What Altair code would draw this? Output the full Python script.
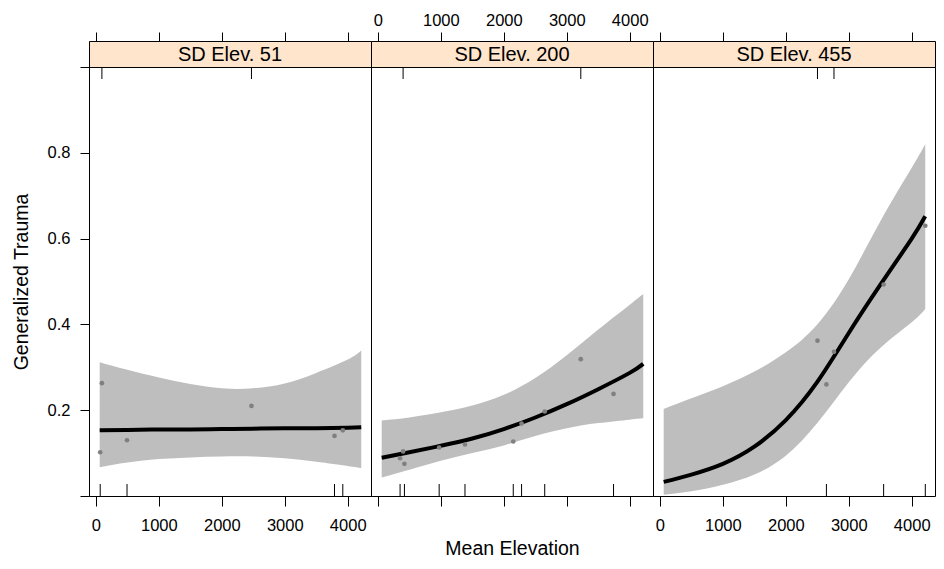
import altair as alt
import pandas as pd

FONT = "Liberation Sans"
W = 282
H = 429
STRIP_H = 26

panel_titles = ["SD Elev. 51", "SD Elev. 200", "SD Elev. 455"]
x_ticks = [0, 1000, 2000, 3000, 4000]
y_ticks = [0.0, 0.2, 0.4, 0.6, 0.8, 1.0]

# Mean elevation positions at which the fitted curve and its band were read
grid_x = [60, 500, 1000, 1500, 2000, 2500, 3000, 3500, 4000, 4215]

fit_51 = [0.153, 0.154, 0.155, 0.155, 0.156, 0.157, 0.158, 0.158, 0.159, 0.160]
lo_51 = [0.067, 0.078, 0.086, 0.090, 0.092, 0.092, 0.088, 0.080, 0.070, 0.065]
hi_51 = [0.312, 0.294, 0.276, 0.261, 0.251, 0.251, 0.262, 0.287, 0.318, 0.339]

fit_200 = [0.089, 0.102, 0.117, 0.134, 0.156, 0.183, 0.214, 0.249, 0.287, 0.308]
lo_200 = [0.043, 0.061, 0.082, 0.100, 0.118, 0.140, 0.158, 0.170, 0.178, 0.181]
hi_200 = [0.176, 0.183, 0.195, 0.211, 0.236, 0.275, 0.328, 0.388, 0.446, 0.471]

fit_455 = [0.033, 0.050, 0.075, 0.115, 0.177, 0.266, 0.380, 0.492, 0.600, 0.652]
lo_455 = [0.003, 0.011, 0.026, 0.050, 0.094, 0.170, 0.265, 0.345, 0.405, 0.436]
hi_455 = [0.203, 0.228, 0.256, 0.290, 0.335, 0.400, 0.505, 0.640, 0.765, 0.820]

# Observed points and which side their rug tick is drawn on
pts_x_51 = [68, 95, 494, 2471, 3790, 3922]
pts_y_51 = [0.102, 0.263, 0.130, 0.210, 0.140, 0.153]
rug_51 = ["bottom", "top", "bottom", "top", "bottom", "bottom"]

pts_x_200 = [352, 400, 421, 973, 1383, 2150, 2282, 2650, 3223, 3743]
pts_y_200 = [0.088, 0.104, 0.075, 0.113, 0.120, 0.127, 0.169, 0.197, 0.319, 0.238]
rug_200 = ["bottom", "top", "bottom", "bottom", "bottom", "bottom", "bottom", "bottom", "top", "bottom"]

pts_x_455 = [2503, 2645, 2765, 3554, 4216]
pts_y_455 = [0.362, 0.260, 0.336, 0.493, 0.630]
rug_455 = ["top", "bottom", "top", "bottom", "bottom"]

fits = [fit_51, fit_200, fit_455]
los = [lo_51, lo_200, lo_455]
his = [hi_51, hi_200, hi_455]
pxs = [pts_x_51, pts_x_200, pts_x_455]
pys = [pts_y_51, pts_y_200, pts_y_455]
rugs = [rug_51, rug_200, rug_455]

xscale = alt.Scale(domain=[-110, 4370], nice=False, zero=False)
yscale = alt.Scale(domain=[0, 1], nice=False, zero=False)


def make_panel(i):
    curve = pd.DataFrame({"x": grid_x, "fit": fits[i], "lo": los[i], "hi": his[i]})
    pts = pd.DataFrame({"x": pxs[i], "y": pys[i], "side": rugs[i]})

    axis_kw = dict(orient="bottom", values=x_ticks, format="d", labels=(i != 1), tickSize=10,
                   labelPadding=11, labelFlush=False, domain=False, grid=False,
                   titlePadding=33)
    if i == 1:
        x_axis = alt.Axis(title="Mean Elevation", **axis_kw)
    else:
        x_axis = alt.Axis(title=None, **axis_kw)

    def X():
        return alt.X("x:Q", scale=xscale, axis=x_axis)

    if i == 0:
        y_axis = alt.Axis(values=y_ticks, format=".1f",
                          labelExpr="datum.value > 0.05 && datum.value < 0.95 ? datum.label : ''",
                          tickSize=9, labelPadding=10, domain=False, grid=False,
                          title="Generalized Trauma", titlePadding=16)
    else:
        y_axis = None

    def Y(field):
        return alt.Y(field, scale=yscale, axis=y_axis)

    band = alt.Chart(curve).mark_area(color="#bebebe", opacity=1, interpolate="natural").encode(
        x=X(), y=Y("lo:Q"), y2="hi:Q")
    line = alt.Chart(curve).mark_line(color="black", strokeWidth=4, interpolate="natural").encode(
        x=X(), y=Y("fit:Q"))
    dots = alt.Chart(pts).mark_circle(color="#808080", size=22, opacity=1).encode(
        x=X(), y=Y("y:Q"))
    rug_bottom = alt.Chart(pts).transform_filter(alt.datum.side == "bottom").mark_rule(
        color="black", strokeWidth=1).encode(x=X(), y=alt.value(H), y2=alt.value(H - 12))
    rug_top = alt.Chart(pts).transform_filter(alt.datum.side == "top").mark_rule(
        color="black", strokeWidth=1).encode(x=X(), y=alt.value(0), y2=alt.value(12))

    return alt.layer(band, line, dots, rug_bottom, rug_top).properties(width=W, height=H)


def make_strip(i):
    pts = pd.DataFrame({"x": pxs[i]})
    strip_axis = alt.Axis(orient="top", values=x_ticks, format="d", labels=(i == 1), tickSize=9,
                          labelPadding=4, labelFlush=False, domain=False, grid=False, title=None)
    strip_anchor = alt.Chart(pts).mark_point(opacity=0).encode(
        x=alt.X("x:Q", scale=xscale, axis=strip_axis))
    strip_text = alt.Chart(pd.DataFrame({"label": [panel_titles[i]]})).mark_text(
        font=FONT, fontSize=20, color="black", baseline="middle", align="center").encode(
        x=alt.value(W / 2), y=alt.value(STRIP_H / 2 + 1), text="label:N")
    return alt.layer(strip_anchor, strip_text).properties(
        width=W, height=STRIP_H, view=alt.ViewBackground(fill="#ffe5cc", stroke="black"))


cells = [make_strip(i) for i in range(3)] + [make_panel(i) for i in range(3)]

chart = alt.concat(*cells, columns=3, spacing=0, bounds="flush").resolve_scale(
    x="independent", y="independent"
).properties(
    padding={"left": 2, "top": 3, "right": 0, "bottom": 0}
).configure_view(stroke="black", strokeWidth=1).configure_axis(
    labelFont=FONT, titleFont=FONT, labelFontSize=16.5, titleFontSize=19.5,
    titleFontWeight="normal", tickColor="black", labelColor="black", titleColor="black",
    tickWidth=1
)

chart.save("out.html", embed_options={"renderer": "svg", "actions": False})
